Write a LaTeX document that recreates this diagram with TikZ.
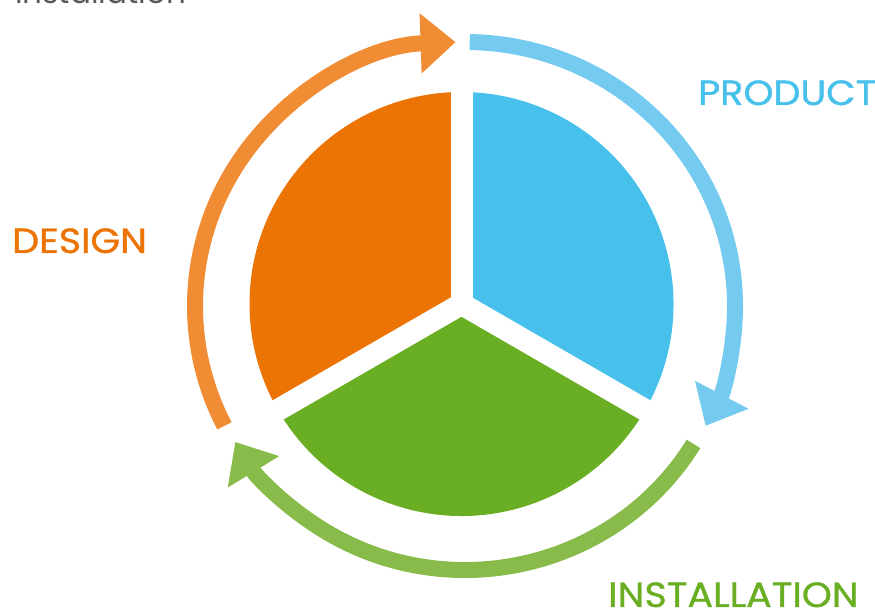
\documentclass[tikz,border=0pt]{standalone}
\usepackage{fontspec}
\setmainfont{Poppins}
\newfontfamily\wordfont[FakeBold=1,FakeStretch=1.09]{Poppins}
\usetikzlibrary{arrows.meta}

\definecolor{designfill}{HTML}{EC7404}
\definecolor{productfill}{HTML}{47C0EB}
\definecolor{installfill}{HTML}{6AAF23}
\definecolor{designring}{HTML}{F08C33}
\definecolor{productring}{HTML}{74CBEF}
\definecolor{installring}{HTML}{88BB4A}

\begin{document}
\begin{tikzpicture}[x=1pt,y=1pt,
  ring/.style={line width=16pt,-{Triangle[length=35pt,width=58pt]}},
  word/.style={inner sep=0pt,anchor=base west,font=\wordfont\fontsize{35}{40}\selectfont}
]
\useasboundingbox (0,0) rectangle (875,609);
\coordinate (c) at (461.5,305);
\coordinate (r) at (465,303);

\fill[designfill] (c) -- ++(90:212) arc[start angle=90,end angle=210,radius=212] -- cycle;
\fill[installfill] (c) -- ++(210:212) arc[start angle=210,end angle=330,radius=212] -- cycle;
\fill[productfill] (c) -- ++(-30:212) arc[start angle=-30,end angle=90,radius=212] -- cycle;
\foreach \a in {90,210,330}
  \draw[white,line width=22pt] (c) -- ++(\a:216);

\draw[ring,designring] (r) ++(207:270 and 264)
  arc[start angle=207,end angle=92,x radius=270,y radius=264];
\draw[ring,productring] (r) ++(89:270 and 264)
  arc[start angle=89,end angle=-27,x radius=270,y radius=264];
\draw[ring,installring] (r) ++(-31.5:268 and 264)
  arc[start angle=-31.5,end angle=-149,x radius=268,y radius=264];

\node[word,text=designfill] (design) at (12,356) {DESIGN};
\node[word,text=productfill] (product) at (698,504) {PRODUCT};
\node[word,text=installfill] (install) at (608,2) {INSTALLATION};
\node[inner sep=0pt,anchor=base west,text=black!65,font=\fontsize{31}{36}\selectfont] (title) at (15,605) {Installation};
\end{tikzpicture}
\end{document}
